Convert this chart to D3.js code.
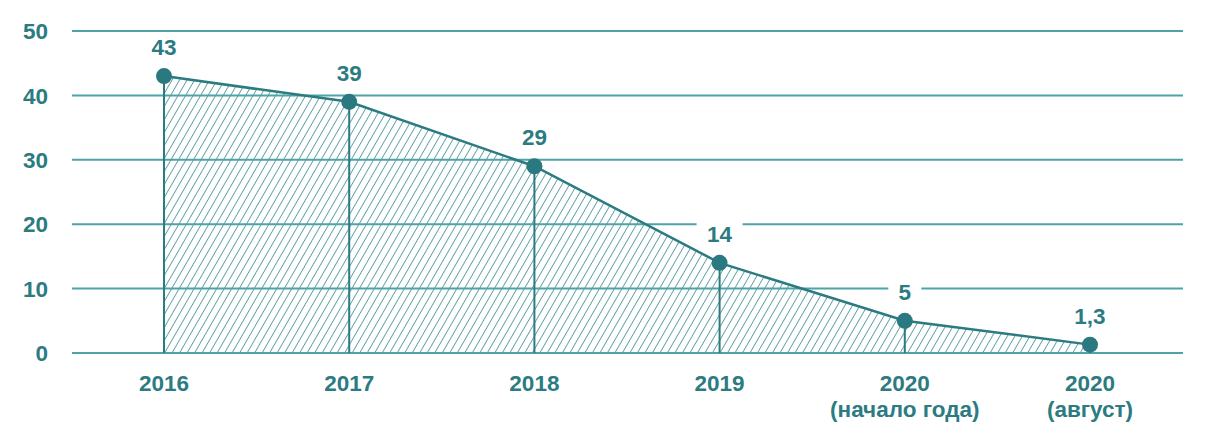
<!DOCTYPE html>
<html>
<head>
<meta charset="utf-8">
<script src="https://cdn.jsdelivr.net/npm/d3@7"></script>
<style>
  body { margin: 0; background: #fff; }
  text { font-family: "Liberation Sans", Arial, sans-serif; font-weight: bold; fill: #2b7b81; }
</style>
</head>
<body>
<div id="chart"></div>
<script>
// Values
const years = ['2016', '2017', '2018', '2019', '2020', '2020'];
const subLabels = ['', '', '', '', '(начало года)', '(август)'];
const values = [43, 39, 29, 14, 5, 1.3];
const valueLabels = ['43', '39', '29', '14', '5', '1,3'];
const yTicks = [0, 10, 20, 30, 40, 50];

const width = 1226, height = 434;
const teal = '#2b7b81';
const gridColor = '#4fa3a6';
const fontSize = 22.5;

const svg = d3.select('#chart').append('svg')
    .attr('width', width)
    .attr('height', height);

// Hatch pattern
const pattern = svg.append('defs').append('pattern')
    .attr('id', 'hatch')
    .attr('patternUnits', 'userSpaceOnUse')
    .attr('width', 6.5)
    .attr('height', 6.5)
    .attr('patternTransform', 'rotate(30)');
pattern.append('line')
    .attr('x1', 0).attr('y1', 0)
    .attr('x2', 0).attr('y2', 6.5)
    .attr('stroke', '#348a8f')
    .attr('stroke-width', 1.5);

const x = d3.scalePoint()
    .domain(d3.range(years.length))
    .range([164, 1090]);

const y = d3.scaleLinear()
    .domain([0, 50])
    .range([353, 31]);

// Hatched area
const area = d3.area()
    .x((d, i) => x(i))
    .y0(y(0))
    .y1(d => y(d));

svg.append('path')
    .datum(values)
    .attr('d', area)
    .attr('fill', 'url(#hatch)');

// Grid lines
svg.append('g')
    .selectAll('line')
    .data(yTicks)
    .join('line')
    .attr('x1', 72)
    .attr('x2', 1183)
    .attr('y1', d => y(d))
    .attr('y2', d => y(d))
    .attr('stroke', gridColor)
    .attr('stroke-width', 2);

// Y labels
svg.append('g')
    .selectAll('text')
    .data(yTicks)
    .join('text')
    .attr('x', 48)
    .attr('y', d => y(d))
    .attr('dy', '0.36em')
    .attr('text-anchor', 'end')
    .attr('font-size', fontSize)
    .text(d => d);

// Drop lines
svg.append('g')
    .selectAll('line')
    .data(values)
    .join('line')
    .attr('x1', (d, i) => x(i))
    .attr('x2', (d, i) => x(i))
    .attr('y1', d => y(d))
    .attr('y2', y(0))
    .attr('stroke', teal)
    .attr('stroke-width', 2);

// Main line
const line = d3.line()
    .x((d, i) => x(i))
    .y(d => y(d));

svg.append('path')
    .datum(values)
    .attr('d', line)
    .attr('fill', 'none')
    .attr('stroke', teal)
    .attr('stroke-width', 2.5);

// Points
svg.append('g')
    .selectAll('circle')
    .data(values)
    .join('circle')
    .attr('cx', (d, i) => x(i))
    .attr('cy', d => y(d))
    .attr('r', 8)
    .attr('fill', '#2a7980');

// Value labels with white boxes
const labels = svg.append('g')
    .selectAll('g')
    .data(values)
    .join('g')
    .attr('transform', (d, i) => `translate(${x(i)},${y(d) - 29})`);

labels.append('rect')
    .attr('x', (d, i) => -(valueLabels[i].length * 6.5 + 10))
    .attr('y', -15)
    .attr('width', (d, i) => valueLabels[i].length * 13 + 20)
    .attr('height', 30)
    .attr('fill', '#fff');

labels.append('text')
    .attr('text-anchor', 'middle')
    .attr('dy', '0.36em')
    .attr('font-size', fontSize)
    .text((d, i) => valueLabels[i]);

// X labels
const xl = svg.append('g')
    .selectAll('text')
    .data(years)
    .join('text')
    .attr('x', (d, i) => x(i))
    .attr('y', 391)
    .attr('text-anchor', 'middle')
    .attr('font-size', fontSize);

xl.append('tspan')
    .text(d => d);
xl.append('tspan')
    .attr('x', (d, i) => x(i))
    .attr('dy', 26)
    .text((d, i) => subLabels[i]);
</script>
</body>
</html>
